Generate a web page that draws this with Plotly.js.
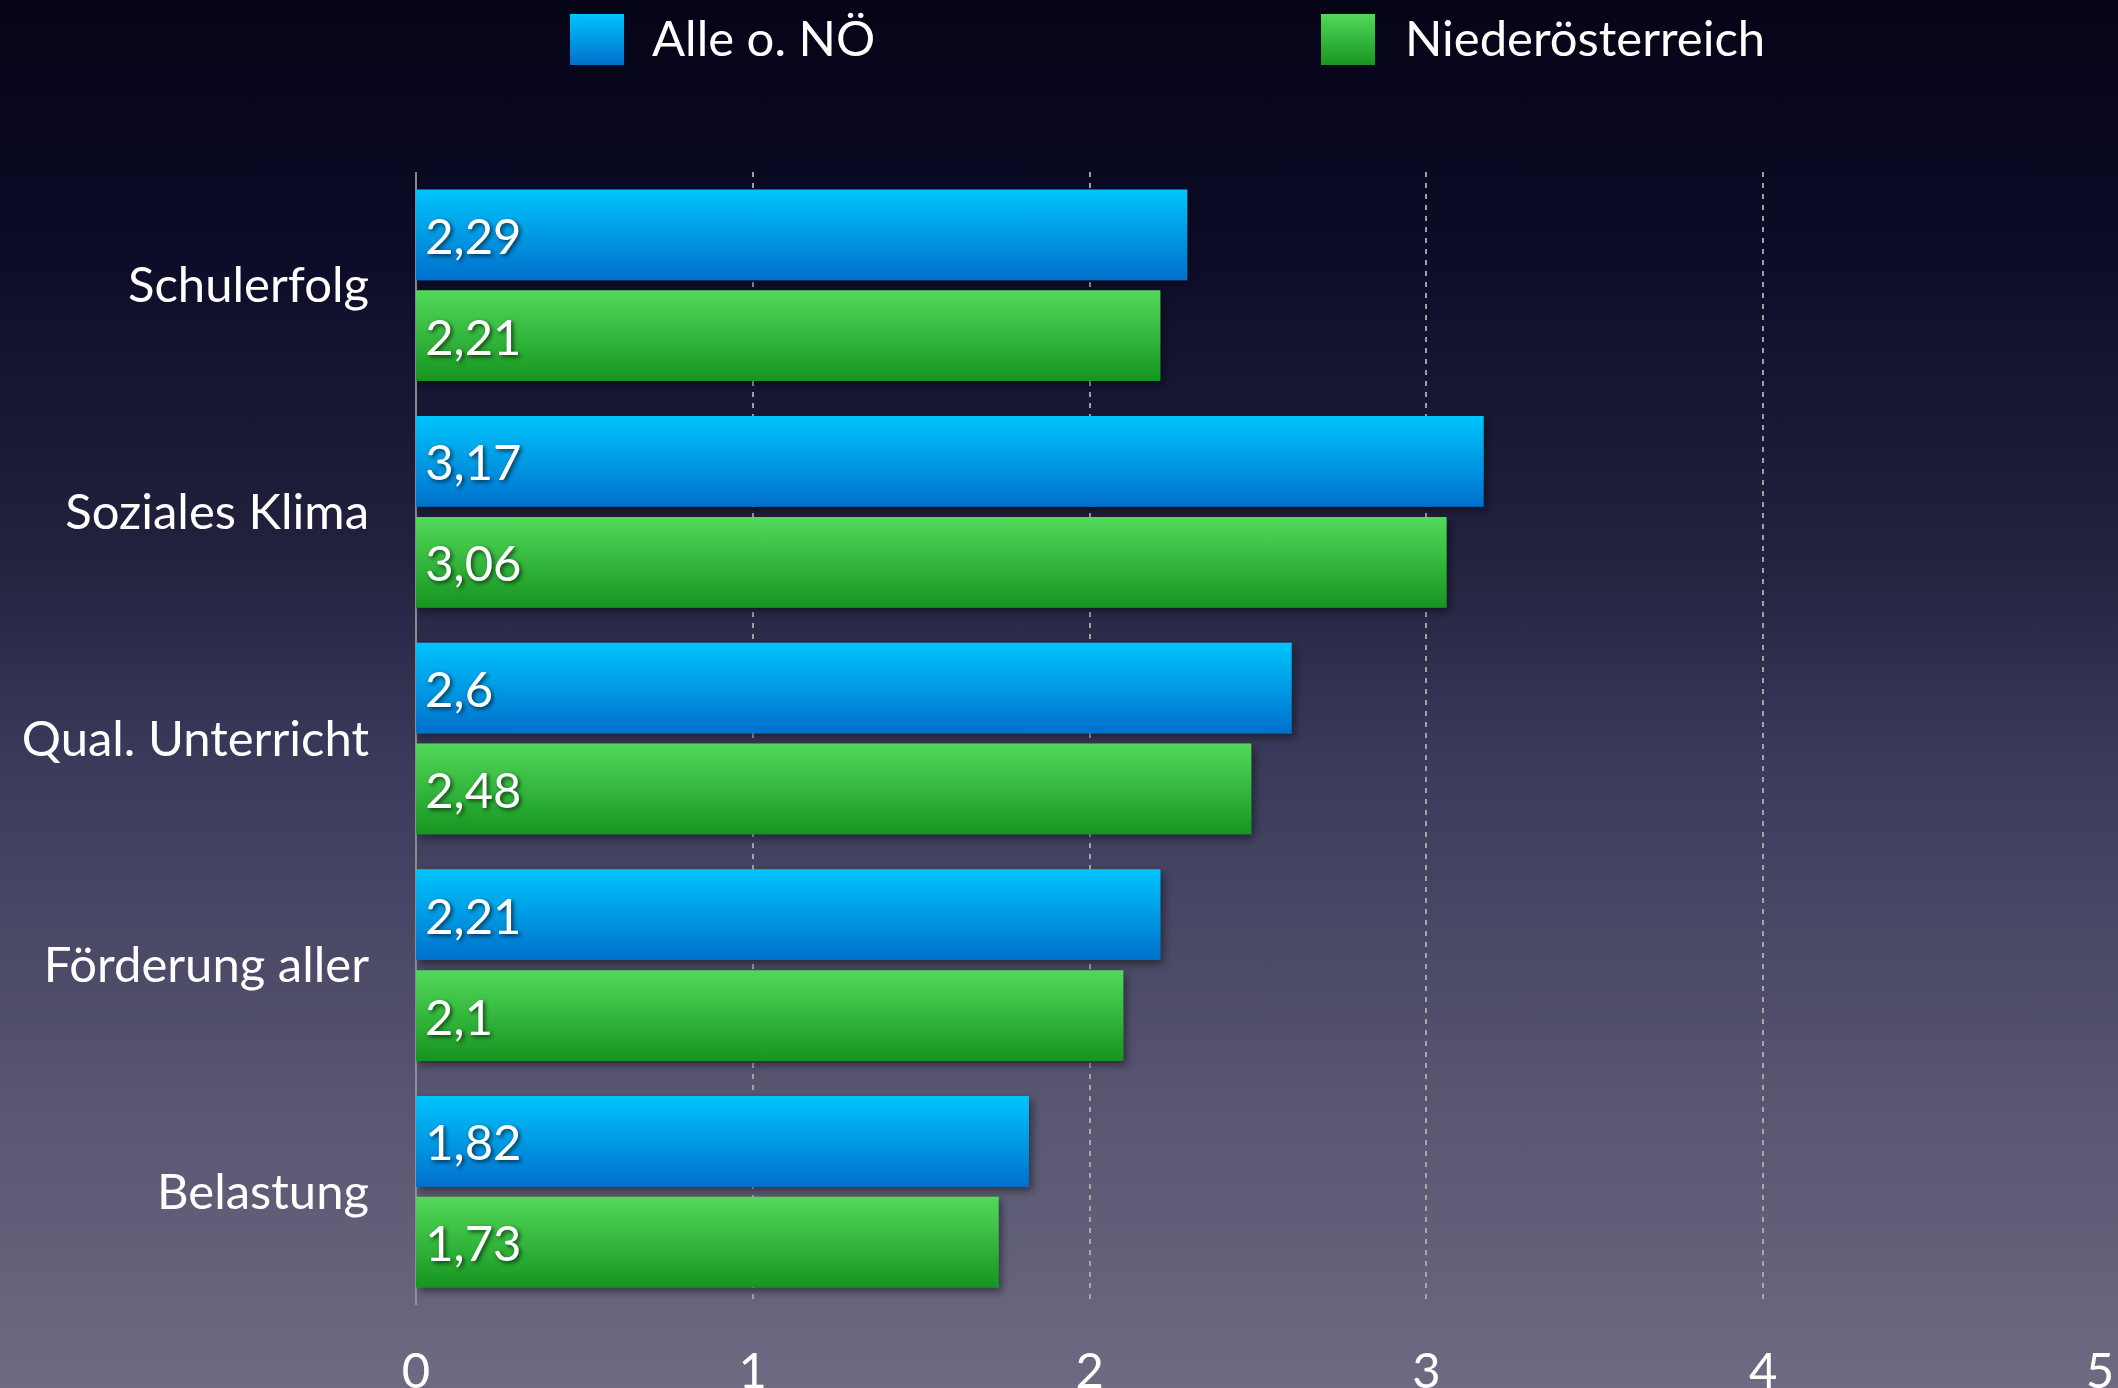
<!DOCTYPE html>
<html>
<head>
<meta charset="utf-8">
<script src="https://cdn.plot.ly/plotly-3.0.1.min.js"></script>
<style>
  html, body { margin: 0; padding: 0; }
  body {
    width: 2118px; height: 1388px; overflow: hidden;
    background: linear-gradient(to bottom, #050417 0%, #0d0c28 18%, #22223f 40%, #3a3a5b 55%, #56546f 78%, #6d6a82 100%);
  }
  #chart { width: 2118px; height: 1388px; }
</style>
</head>
<body>
<div id="chart"></div>
<script>
// ---- data ----
const categories = ["Schulerfolg", "Soziales Klima", "Qual. Unterricht", "Förderung aller", "Belastung"];
const seriesNames = ["Alle o. NÖ", "Niederösterreich"];
const valuesAlle = [2.29, 3.17, 2.6, 2.21, 1.82];
const valuesNOE = [2.21, 3.06, 2.48, 2.1, 1.73];
const xTicks = [0, 1, 2, 3, 4, 5];

// ---- layout helpers ----
const W = 2118, H = 1388;
const M = { l: 416, r: 18, t: 172, b: 83 };
const pw = W - M.l - M.r, ph = H - M.t - M.b;
const px2x = p => (p - M.l) / pw;
const px2y = p => (H - M.b - p) / ph;

const fontFam = "Lato, 'Open Sans', sans-serif";
const labelFont = { family: fontFam, size: 49, color: "#ffffff", shadow: "2px 2px 4px rgba(0,0,0,0.65)" };

const traces = [
  {
    type: "bar", orientation: "h", name: seriesNames[0],
    y: categories, x: valuesAlle,
    marker: { color: "#0096e4", line: { width: 0 } },
    texttemplate: "\u2009%{x}", textposition: "inside", insidetextanchor: "start",
    textangle: 0, constraintext: "none", textfont: labelFont,
    showlegend: false, hoverinfo: "skip"
  },
  {
    type: "bar", orientation: "h", name: seriesNames[1],
    y: categories, x: valuesNOE,
    marker: { color: "#34b83c", line: { width: 0 } },
    texttemplate: "\u2009%{x}", textposition: "inside", insidetextanchor: "start",
    textangle: 0, constraintext: "none", textfont: labelFont,
    showlegend: false, hoverinfo: "skip"
  }
];

// legend drawn as shapes + annotations (large gradient squares)
const legendItems = [
  { name: seriesNames[0], x0: 570, x1: 624, tx: 650 },
  { name: seriesNames[1], x0: 1321, x1: 1375, tx: 1403 }
];
const shapes = legendItems.map(it => ({
  type: "rect", xref: "paper", yref: "paper",
  x0: px2x(it.x0), x1: px2x(it.x1), y0: px2y(65), y1: px2y(14),
  fillcolor: "#888", line: { width: 0 }
}));
const annotations = legendItems.map(it => ({
  xref: "paper", yref: "paper", x: px2x(it.tx), y: px2y(37),
  xanchor: "left", yanchor: "middle", showarrow: false,
  text: it.name, font: { family: fontFam, size: 49, color: "#ffffff" }
}));

const layout = {
  width: W, height: H,
  margin: M,
  paper_bgcolor: "rgba(0,0,0,0)",
  plot_bgcolor: "rgba(0,0,0,0)",
  separators: ",.",
  barmode: "group",
  bargap: 0.11,
  bargroupgap: 0.1,
  showlegend: false,
  xaxis: {
    range: [0, 5], tickvals: xTicks, ticktext: xTicks.map(String),
    showgrid: true, gridcolor: "rgba(175,175,175,0.9)", gridwidth: 2, griddash: "5px,6px",
    zeroline: true, zerolinecolor: "rgba(150,150,150,0.9)", zerolinewidth: 2,
    showline: false, ticks: "",
    ticklabelstandoff: 33,
    tickfont: { family: fontFam, size: 49, color: "#ffffff" },
    fixedrange: true
  },
  yaxis: {
    type: "category", autorange: "reversed",
    showgrid: false, zeroline: false, showline: false, ticks: "",
    ticklabelstandoff: 46,
    tickfont: { family: fontFam, size: 49, color: "#ffffff" },
    fixedrange: true
  },
  shapes: shapes,
  annotations: annotations
};

Plotly.newPlot("chart", traces, layout, { displayModeBar: false, staticPlot: true }).then(gd => {
  const svgNS = "http://www.w3.org/2000/svg";
  const svg = gd.querySelector(".main-svg");
  let defs = svg.querySelector("defs");
  if (!defs) { defs = document.createElementNS(svgNS, "defs"); svg.insertBefore(defs, svg.firstChild); }
  function grad(id, top, bottom) {
    const g = document.createElementNS(svgNS, "linearGradient");
    g.setAttribute("id", id);
    g.setAttribute("x1", "0"); g.setAttribute("y1", "0");
    g.setAttribute("x2", "0"); g.setAttribute("y2", "1");
    [[0, top], [1, bottom]].forEach(([o, c]) => {
      const s = document.createElementNS(svgNS, "stop");
      s.setAttribute("offset", o); s.setAttribute("stop-color", c);
      g.appendChild(s);
    });
    defs.appendChild(g);
  }
  grad("gBlue", "#00c4fc", "#0070cc");
  grad("gGreen", "#52d95a", "#179520");
  const f = document.createElementNS(svgNS, "filter");
  f.setAttribute("id", "barShadow");
  f.setAttribute("x", "-5%"); f.setAttribute("y", "-10%");
  f.setAttribute("width", "115%"); f.setAttribute("height", "130%");
  const ds = document.createElementNS(svgNS, "feDropShadow");
  ds.setAttribute("dx", "3"); ds.setAttribute("dy", "4");
  ds.setAttribute("stdDeviation", "4");
  ds.setAttribute("flood-color", "#000"); ds.setAttribute("flood-opacity", "0.45");
  f.appendChild(ds);
  defs.appendChild(f);

  const gradIds = ["gBlue", "gGreen"];
  gd.querySelectorAll(".barlayer .trace").forEach((t, i) => {
    t.querySelectorAll(".point path").forEach(p => {
      p.style.fill = "url(#" + gradIds[i] + ")";
      p.setAttribute("filter", "url(#barShadow)");
    });
  });
  gd.querySelectorAll(".shapelayer path").forEach((p, i) => {
    if (i < gradIds.length) p.style.fill = "url(#" + gradIds[i] + ")";
  });
});
</script>
</body>
</html>
